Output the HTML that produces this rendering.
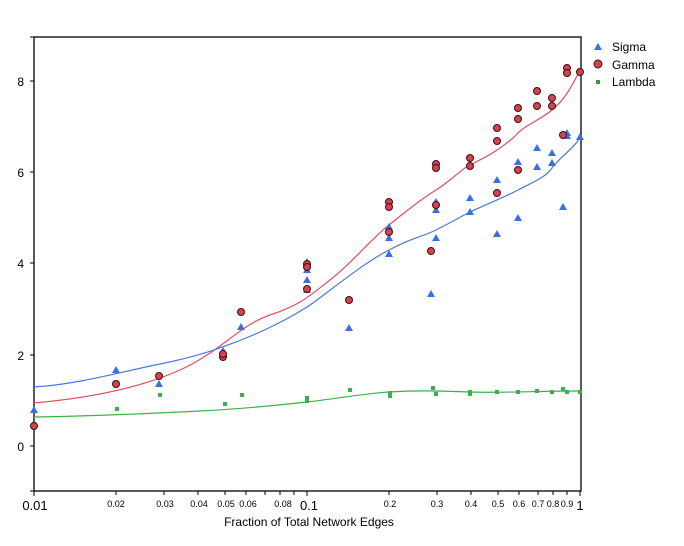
<!DOCTYPE html><html><head><style>body{margin:0;background:#fff}svg{display:block}</style></head><body>
<svg width="684" height="546" xmlns="http://www.w3.org/2000/svg" font-family="Liberation Sans, Arial, sans-serif">
<rect width="684" height="546" fill="#fff"/>
<rect x="34" y="37" width="547" height="454" fill="none" stroke="#000" stroke-width="1.3"/>
<g stroke="#000" stroke-width="1">
<line x1="30" y1="81" x2="34" y2="81"/><line x1="30" y1="172" x2="34" y2="172"/><line x1="30" y1="263" x2="34" y2="263"/><line x1="30" y1="355" x2="34" y2="355"/><line x1="30" y1="446" x2="34" y2="446"/><line x1="30" y1="491" x2="34" y2="491"/><line x1="30" y1="37" x2="34" y2="37"/>
<line x1="34" y1="491" x2="34" y2="496"/><line x1="116" y1="491" x2="116" y2="495"/><line x1="164" y1="491" x2="164" y2="495"/><line x1="198" y1="491" x2="198" y2="495"/><line x1="225" y1="491" x2="225" y2="495"/><line x1="246" y1="491" x2="246" y2="495"/><line x1="265" y1="491" x2="265" y2="495"/><line x1="280" y1="491" x2="280" y2="495"/><line x1="294" y1="491" x2="294" y2="495"/><line x1="307" y1="491" x2="307" y2="496"/><line x1="389" y1="491" x2="389" y2="495"/><line x1="437" y1="491" x2="437" y2="495"/><line x1="471" y1="491" x2="471" y2="495"/><line x1="498" y1="491" x2="498" y2="495"/><line x1="519" y1="491" x2="519" y2="495"/><line x1="538" y1="491" x2="538" y2="495"/><line x1="553" y1="491" x2="553" y2="495"/><line x1="567" y1="491" x2="567" y2="495"/><line x1="580" y1="491" x2="580" y2="496"/>
</g>
<g font-size="12" text-anchor="end" fill="#000"><text x="24" y="86">8</text><text x="24" y="177">6</text><text x="24" y="268">4</text><text x="24" y="360">2</text><text x="24" y="451">0</text></g>
<g font-size="13" text-anchor="middle"><text x="35" y="510">0.01</text><text x="309" y="510">0.1</text><text x="580" y="510">1</text></g>
<g font-size="9" text-anchor="middle"><text x="116" y="507">0.02</text><text x="165" y="507">0.03</text><text x="199" y="507">0.04</text><text x="226" y="507">0.05</text><text x="248" y="507">0.06</text><text x="283" y="507">0.08</text><text x="390" y="507">0.2</text><text x="437" y="507">0.3</text><text x="471" y="507">0.4</text><text x="498" y="507">0.5</text><text x="519" y="507">0.6</text><text x="538" y="507">0.7</text><text x="553" y="507">0.8</text><text x="567" y="507">0.9</text></g>
<text x="309" y="526" font-size="12" text-anchor="middle">Fraction of Total Network Edges</text>
<path d="M34,403 C90,398 140,388 180,370 S240,325 270,315 S307,298 330,280 S370,240 389,225 S420,200 436,190 S460,170 470,165 S490,155 497,150 S512,140 518,133 S540,120 552,110 S570,90 580,70" fill="none" stroke="#e05060" stroke-width="1.2"/>
<path d="M34,387 C80,384 120,372 160,364 S220,348 241,340 S290,318 307,307 S360,265 389,250 S420,238 436,230 S460,217 470,212 S505,197 518,190 S545,178 552,168 S572,150 580,138" fill="none" stroke="#4a78e0" stroke-width="1.2"/>
<path d="M34,417 C100,416 160,413 200,411 S280,405 307,402 S360,394 389,392 S440,391 470,392 S540,391 580,391" fill="none" stroke="#3cb04a" stroke-width="1.2"/>
<g fill="#3cb04a">
<rect x="32" y="422" width="4" height="4"/><rect x="115" y="407" width="4" height="4"/><rect x="158" y="393" width="4" height="4"/><rect x="223" y="402" width="4" height="4"/><rect x="240" y="393" width="4" height="4"/><rect x="305" y="396" width="4" height="4"/><rect x="305" y="399" width="4" height="4"/><rect x="348" y="388" width="4" height="4"/><rect x="388" y="391" width="4" height="4"/><rect x="388" y="394" width="4" height="4"/><rect x="431" y="386" width="4" height="4"/><rect x="434" y="392" width="4" height="4"/><rect x="468" y="390" width="4" height="4"/><rect x="468" y="392" width="4" height="4"/><rect x="495" y="390" width="4" height="4"/><rect x="516" y="390" width="4" height="4"/><rect x="535" y="389" width="4" height="4"/><rect x="550" y="390" width="4" height="4"/><rect x="561" y="387" width="4" height="4"/><rect x="565" y="390" width="4" height="4"/><rect x="578" y="390" width="4" height="4"/>
</g>
<g fill="#3a6fe0">
<path id="t" d="M0,-4 L4,3 L-4,3Z" transform="translate(34,410)"/>
<path d="M0,-4 L4,3 L-4,3Z" transform="translate(116,370)"/><path d="M0,-4 L4,3 L-4,3Z" transform="translate(159,384)"/><path d="M0,-4 L4,3 L-4,3Z" transform="translate(223,351)"/><path d="M0,-4 L4,3 L-4,3Z" transform="translate(241,327)"/><path d="M0,-4 L4,3 L-4,3Z" transform="translate(307,270)"/><path d="M0,-4 L4,3 L-4,3Z" transform="translate(307,262)"/><path d="M0,-4 L4,3 L-4,3Z" transform="translate(307,280)"/><path d="M0,-4 L4,3 L-4,3Z" transform="translate(307,290)"/><path d="M0,-4 L4,3 L-4,3Z" transform="translate(349,328)"/><path d="M0,-4 L4,3 L-4,3Z" transform="translate(389,227)"/><path d="M0,-4 L4,3 L-4,3Z" transform="translate(389,238)"/><path d="M0,-4 L4,3 L-4,3Z" transform="translate(389,254)"/><path d="M0,-4 L4,3 L-4,3Z" transform="translate(431,294)"/><path d="M0,-4 L4,3 L-4,3Z" transform="translate(436,202)"/><path d="M0,-4 L4,3 L-4,3Z" transform="translate(436,210)"/><path d="M0,-4 L4,3 L-4,3Z" transform="translate(436,238)"/><path d="M0,-4 L4,3 L-4,3Z" transform="translate(470,198)"/><path d="M0,-4 L4,3 L-4,3Z" transform="translate(470,212)"/><path d="M0,-4 L4,3 L-4,3Z" transform="translate(497,180)"/><path d="M0,-4 L4,3 L-4,3Z" transform="translate(497,234)"/><path d="M0,-4 L4,3 L-4,3Z" transform="translate(518,162)"/><path d="M0,-4 L4,3 L-4,3Z" transform="translate(518,218)"/><path d="M0,-4 L4,3 L-4,3Z" transform="translate(537,148)"/><path d="M0,-4 L4,3 L-4,3Z" transform="translate(537,167)"/><path d="M0,-4 L4,3 L-4,3Z" transform="translate(552,153)"/><path d="M0,-4 L4,3 L-4,3Z" transform="translate(552,163)"/><path d="M0,-4 L4,3 L-4,3Z" transform="translate(563,207)"/><path d="M0,-4 L4,3 L-4,3Z" transform="translate(567,133)"/><path d="M0,-4 L4,3 L-4,3Z" transform="translate(567,136)"/><path d="M0,-4 L4,3 L-4,3Z" transform="translate(580,137)"/>
</g>
<g fill="#d84050" stroke="#3a1010" stroke-width="1">
<circle cx="34" cy="426" r="3.5"/><circle cx="116" cy="384" r="3.5"/><circle cx="159" cy="376" r="3.5"/><circle cx="223" cy="357" r="3.5"/><circle cx="223" cy="354" r="3.5"/><circle cx="241" cy="312" r="3.5"/><circle cx="307" cy="264" r="3.5"/><circle cx="307" cy="267" r="3.5"/><circle cx="307" cy="289" r="3.5"/><circle cx="349" cy="300" r="3.5"/><circle cx="389" cy="202" r="3.5"/><circle cx="389" cy="207" r="3.5"/><circle cx="389" cy="232" r="3.5"/><circle cx="431" cy="251" r="3.5"/><circle cx="436" cy="164" r="3.5"/><circle cx="436" cy="168" r="3.5"/><circle cx="436" cy="205" r="3.5"/><circle cx="470" cy="158" r="3.5"/><circle cx="470" cy="166" r="3.5"/><circle cx="497" cy="128" r="3.5"/><circle cx="497" cy="141" r="3.5"/><circle cx="497" cy="193" r="3.5"/><circle cx="518" cy="108" r="3.5"/><circle cx="518" cy="119" r="3.5"/><circle cx="518" cy="170" r="3.5"/><circle cx="537" cy="91" r="3.5"/><circle cx="537" cy="106" r="3.5"/><circle cx="552" cy="98" r="3.5"/><circle cx="552" cy="106" r="3.5"/><circle cx="567" cy="68" r="3.5"/><circle cx="567" cy="73" r="3.5"/><circle cx="563" cy="135" r="3.5"/><circle cx="580" cy="72" r="3.5"/>
</g>
<path d="M598,43 L602,50 L594,50Z" fill="#3a6fe0"/>
<circle cx="598" cy="64" r="4" fill="#d84050" stroke="#3a1010"/>
<circle cx="598" cy="82" r="2" fill="#3cb04a" stroke="#204020" stroke-width="0.5"/>
<g font-size="12"><text x="612" y="51">Sigma</text><text x="612" y="69">Gamma</text><text x="612" y="86">Lambda</text></g>
</svg>
</body></html>
